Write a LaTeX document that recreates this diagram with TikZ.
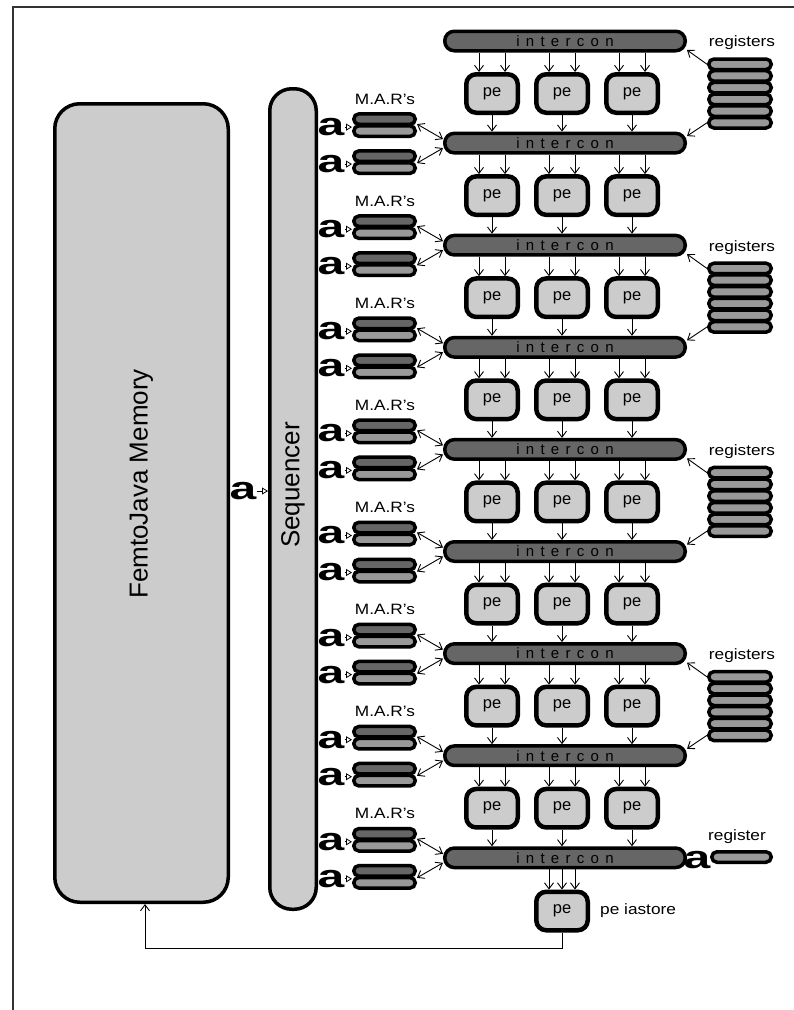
\documentclass[tikz,border=0pt]{standalone}
\usepackage{fontspec}
\setmainfont{Liberation Sans}
\newfontfamily\spacedfont[LetterSpace=42]{Liberation Sans}
\usetikzlibrary{arrows.meta, positioning, calc}
\definecolor{pegray}{RGB}{204,204,204}
\definecolor{icgray}{RGB}{102,102,102}
\definecolor{reggray}{RGB}{153,153,153}

\begin{document}
\begin{tikzpicture}[x=1pt, y=-1pt,
  bigbox/.style={draw, line width=3.5pt, fill=pegray, rounded corners=25pt, rotate=90, inner sep=0pt},
  icbar/.style={draw, line width=3.5pt, fill=icgray, rounded corners=9.5pt, minimum width=240.5pt, minimum height=19.5pt, inner sep=0pt, font=\spacedfont\fontsize{15}{15}\selectfont},
  pebox/.style={draw, line width=4.5pt, fill=pegray, rounded corners=10pt, minimum width=51.5pt, minimum height=38.5pt, inner sep=0pt, font=\fontsize{16.5}{17}\selectfont},
  regbar/.style={draw, line width=3.5pt, fill=reggray, rounded corners=5.2pt, minimum width=62.5pt, minimum height=10.5pt, inner sep=0pt},
  marbar/.style={regbar, minimum width=61.5pt},
  lbl/.style={font=\fontsize{15}{16}\selectfont, xscale=1.15, inner sep=0pt},
  amark/.style={font=\bfseries\fontsize{32}{32}\selectfont, xscale=1.5, inner sep=0pt},
  flow/.style={-{Straight Barb[length=6pt,width=9pt]}, line width=0.9pt},
  biflow/.style={{Straight Barb[length=6pt,width=9pt]}-{Straight Barb[length=6pt,width=9pt]}, line width=0.9pt},
  aflow/.style={-{Triangle[open,length=6pt,width=7pt]}, line width=0.8pt}
]
  \useasboundingbox (0,0) rectangle (794,1010);
  \draw[line width=1.2pt, black!80] (794,7) -- (13,7) -- (13,1010);

  % memory and sequencer
  \node[bigbox, minimum width=798.5pt, minimum height=173.5pt, font=\fontsize{26}{26}\selectfont] (mem) at (141.5,503) {\hspace*{38pt}FemtoJava Memory};
  \node[bigbox, rounded corners=22pt, minimum width=820.5pt, minimum height=46.5pt, font=\fontsize{26}{26}\selectfont] (seq) at (293,499) {\hspace*{28pt}Sequencer};
  \node[amark] (amem) at (243,491) {a};
  \draw[aflow] (amem.east) -- (amem.east -| seq.north);

  % intercon bars
  \foreach \i in {1,...,9}
    \node[icbar] (ic\i) at (565,{41+(\i-1)*102.1}) {intercon\hspace{8pt}};

  % pe rows
  \foreach \r [evaluate=\r as \n using int(\r+1)] in {1,...,8} {
    \foreach \c/\x in {1/492,2/562,3/632} {
      \node[pebox] (pe-\r-\c) at (\x,{93.5+(\r-1)*102.1}) {pe};
      \draw[flow] ($(pe-\r-\c.north |- ic\r.south)+(-13,0)$) -- ($(pe-\r-\c.north)+(-13,0)$);
      \draw[flow] ($(pe-\r-\c.north |- ic\r.south)+(13,0)$) -- ($(pe-\r-\c.north)+(13,0)$);
      \draw[flow] (pe-\r-\c.south) -- (pe-\r-\c.south |- ic\n.north);
    }
  }

  % pe iastore
  \node[pebox] (peia) at (562,911) {pe};
  \node[lbl, anchor=west] (peialbl) at (600,911) {pe iastore};
  \foreach \dx in {-13,0,13}
    \draw[flow] ($(peia.north |- ic9.south)+(\dx,0)$) -- ($(peia.north)+(\dx,0)$);
  \draw[flow] (peia.south) -- ++(0,16) -| ([xshift=3.5pt]mem.west);

  % register files
  \foreach \r [evaluate=\r as \n using int(\r+1)] in {1,3,5,7} {
    \foreach \k in {1,...,6}
      \node[regbar] (reg-\r-\k) at (740,{93.5+(\r-1)*102.1+(\k-3.5)*11.7}) {};
    \node[lbl] (reglbl\r) at (742,{43+(\r-1)*102.1}) {registers};
    \draw[flow] (reg-\r-1.west) -- ([yshift=-9pt]ic\r.east);
    \draw[flow] (reg-\r-6.west) -- ([yshift=7pt]ic\n.east);
  }
  \node[amark] (areg) at (697,860) {a};
  \node[regbar, minimum width=59.5pt] (reg9) at (741.5,857) {};
  \node[lbl] (reglbl9) at (737,837) {register};

  % M.A.R's
  \foreach \i in {2,...,9} {
    \pgfmathsetmacro\yc{41+(\i-1)*102.1}
    \node[lbl] (marlbl\i) at (385,{\yc-44}) {M.A.R's};
    \foreach \s/\dy in {1/-18,2/19} {
      \node[marbar, fill=icgray] (mar-\i-\s-t) at (384.5,{\yc+\dy-6}) {};
      \node[marbar] (mar-\i-\s-b) at (384.5,{\yc+\dy+6}) {};
      \node[amark] (a-\i-\s) at (331,{\yc+\dy+2}) {a};
      \draw[aflow] (a-\i-\s.east) -- (a-\i-\s.east -| mar-\i-\s-t.west);
    }
    \draw[biflow] (mar-\i-1-b.north east) -- ([yshift=4pt]ic\i.west);
    \draw[biflow] (mar-\i-2-t.south east) -- ([yshift=-5pt]ic\i.west);
  }
\end{tikzpicture}
\end{document}
